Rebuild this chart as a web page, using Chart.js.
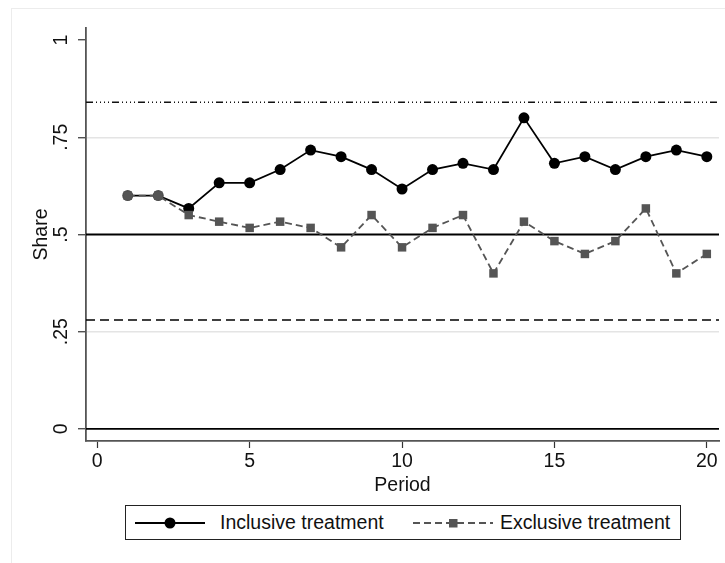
<!DOCTYPE html>
<html>
<head>
<meta charset="utf-8">
<script src="https://cdn.jsdelivr.net/npm/chart.js@4"></script>
<style>
  html, body { margin: 0; padding: 0; background: #fff; }
  body { width: 725px; height: 563px; position: relative; overflow: hidden; font-family: "Liberation Sans", Arial, sans-serif; }
  #frame { position: absolute; left: 11px; top: 8px; width: 760px; height: 600px; border: 1px solid #ececec; }
  #chart { position: absolute; left: 0; top: 0; }
  #legend { position: absolute; left: 125px; top: 505px; width: 554px; height: 33px; border: 1px solid #222; background: #fff; }
  #legend .item { position: absolute; top: 0; height: 33px; display: flex; align-items: center; font-size: 19.5px; color: #111; }
</style>
</head>
<body>
<div id="frame"></div>
<canvas id="chart" width="725" height="563"></canvas>
<div id="legend">
  <div class="item" style="left: 9px;">
    <svg width="70" height="14" style="margin-right: 15px;"><line x1="0" y1="7" x2="70" y2="7" stroke="#000" stroke-width="1.8"/><circle cx="35" cy="7" r="5.5" fill="#000"/></svg>
    <span>Inclusive treatment</span>
  </div>
  <div class="item" style="left: 287px;">
    <svg width="80" height="14" style="margin-right: 7px;"><line x1="0" y1="7" x2="80" y2="7" stroke="#555" stroke-width="1.8" stroke-dasharray="7,4"/><rect x="36" y="3" width="8.5" height="8.5" fill="#555"/></svg>
    <span>Exclusive treatment</span>
  </div>
</div>
<script>
const periods = [1, 2, 3, 4, 5, 6, 7, 8, 9, 10, 11, 12, 13, 14, 15, 16, 17, 18, 19, 20];
const inclusive = [0.6, 0.6, 0.567, 0.633, 0.633, 0.667, 0.717, 0.7, 0.667, 0.617, 0.667, 0.683, 0.667, 0.8, 0.683, 0.7, 0.667, 0.7, 0.717, 0.7];
const exclusive = [0.6, 0.6, 0.55, 0.533, 0.517, 0.533, 0.517, 0.467, 0.55, 0.467, 0.517, 0.55, 0.4, 0.533, 0.483, 0.45, 0.483, 0.567, 0.4, 0.45];
const yTicks = [0, 0.25, 0.5, 0.75, 1];
const yTickLabels = ['0', '.25', '.5', '.75', '1'];
const xTicks = [0, 5, 10, 15, 20];
const xRange = [-0.37, 20.4];
const yRange = [-0.031, 1.031];
// reference lines: value, colour, dash
const refLines = [
  { y: 0.84, dash: [7, 3, 1, 3, 1, 3, 1, 3, 1, 3], color: '#111', width: 1.6 },
  { y: 0.5, dash: [], color: '#000', width: 1.8 },
  { y: 0.28, dash: [9, 5], color: '#000', width: 1.6 },
  { y: 0, dash: [], color: '#000', width: 1.8 }
];

const font = { family: '"Liberation Sans", Arial, sans-serif', size: 19.5 };

const refDatasets = refLines.map((r) => ({
  data: [{ x: xRange[0], y: r.y }, { x: xRange[1], y: r.y }],
  borderColor: r.color,
  borderWidth: r.width,
  borderDash: r.dash,
  pointRadius: 0,
  order: 5
}));

new Chart(document.getElementById('chart'), {
  type: 'line',
  data: {
    datasets: [
      {
        label: 'Exclusive treatment',
        data: periods.map((p, i) => ({ x: p, y: exclusive[i] })),
        borderColor: '#555',
        backgroundColor: '#555',
        borderWidth: 1.8,
        borderDash: [7, 4],
        pointStyle: 'rect',
        pointRadius: 6,
        pointBorderWidth: 0,
        order: 1
      },
      {
        label: 'Inclusive treatment',
        data: periods.map((p, i) => ({ x: p, y: inclusive[i] })),
        borderColor: '#000',
        backgroundColor: periods.map((p) => (p <= 2 ? '#4a4a4a' : '#000')),
        borderWidth: 1.8,
        pointRadius: 5.5,
        pointBorderWidth: 0,
        order: 2
      },
      ...refDatasets
    ]
  },
  options: {
    responsive: false,
    animation: false,
    layout: { padding: { left: 30, top: 28, right: 5, bottom: 66 } },
    plugins: { legend: { display: false }, tooltip: { enabled: false } },
    scales: {
      x: {
        type: 'linear',
        min: xRange[0],
        max: xRange[1],
        afterBuildTicks: (scale) => { scale.ticks = xTicks.map((v) => ({ value: v })); },
        afterFit: (scale) => { scale.height = 56; },
        grid: { display: true, drawOnChartArea: false, tickLength: 7, tickColor: '#333', tickWidth: 1.2 },
        border: { color: '#555', width: 1.8 },
        ticks: { font: font, color: '#111', padding: 2, maxRotation: 0 },
        title: { display: true, text: 'Period', font: font, color: '#111', padding: 0 }
      },
      y: {
        min: yRange[0],
        max: yRange[1],
        afterBuildTicks: (scale) => { scale.ticks = yTicks.map((v) => ({ value: v })); },
        afterFit: (scale) => { scale.width = 56; },
        grid: {
          color: (ctx) => (ctx.tick && (ctx.tick.value === 0.25 || ctx.tick.value === 0.75) ? '#e4e4e4' : 'rgba(0,0,0,0)'),
          lineWidth: 1.5,
          tickLength: 8,
          tickColor: '#333',
          tickWidth: 1.2
        },
        border: { color: '#555', width: 1.8 },
        ticks: {
          font: font,
          color: '#111',
          padding: 3,
          minRotation: 90,
          maxRotation: 90,
          crossAlign: 'center',
          callback: (v) => yTickLabels[yTicks.indexOf(v)]
        },
        title: { display: true, text: 'Share', font: font, color: '#111', padding: 0 }
      }
    }
  }
});
</script>
</body>
</html>
